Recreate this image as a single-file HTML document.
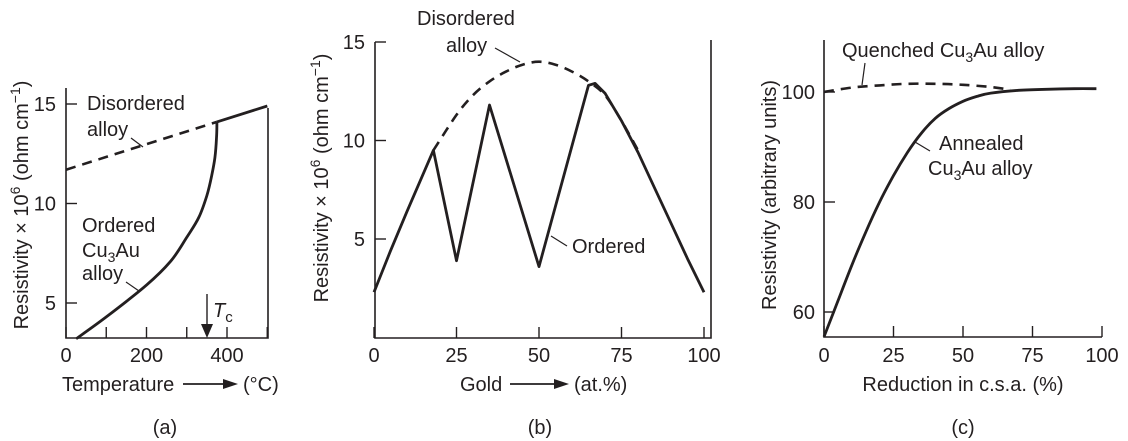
<!DOCTYPE html>
<html><head><meta charset="utf-8"><style>
html,body{margin:0;padding:0;background:#fff;}
svg{display:block;font-family:"Liberation Sans",Arial,sans-serif;}
text{fill:#231f20;font-size:20px;}
</style></head><body>
<svg id="fig" width="1128" height="441" viewBox="0 0 1128 441"></svg>
<script>
// Panel (a) data
const aDisX = [0, 375];
const aDisY = [11.7, 14.1];
const aOrdX = [25, 100, 200, 260, 300, 330, 350, 362, 370, 374, 375];
const aOrdY = [3.2, 4.3, 5.9, 7.1, 8.3, 9.3, 10.4, 11.4, 12.3, 13.3, 14.1];
const aHighX = [375, 500];
const aHighY = [14.1, 14.9];
const aXTicks = [0, 200, 400];
const aXMinor = [100, 300, 500];
const aYTicks = [5, 10, 15];
// Panel (b) data
const bDisX = [18, 25, 30, 35, 40, 45, 50, 55, 60, 65, 70, 75, 80];
const bDisY = [9.5, 11.3, 12.3, 13.0, 13.5, 13.85, 14.0, 13.85, 13.5, 13.0, 12.3, 11.0, 9.5];
const bOrdX = [0, 5, 10, 18, 25, 35, 50, 65, 67, 70, 75, 80, 85, 90, 95, 100];
const bOrdY = [2.3, 4.4, 6.4, 9.5, 3.9, 11.8, 3.6, 12.8, 12.9, 12.4, 11.0, 9.4, 7.6, 5.8, 4.0, 2.3];
const bXTicks = [0, 25, 50, 75, 100];
const bYTicks = [5, 10, 15];
// Panel (c) data
const cQX = [0, 10, 20, 30, 40, 50, 60, 67];
const cQY = [100, 100.8, 101.2, 101.5, 101.5, 101.3, 100.9, 100.4];
const cAX = [0, 5, 10, 15, 20, 25, 30, 35, 40, 45, 50, 55, 60, 70, 80, 90, 98];
const cAY = [55.5, 62, 68.5, 74.5, 80, 84.8, 89, 92.5, 95.2, 97, 98.3, 99.2, 99.8, 100.3, 100.5, 100.6, 100.6];
const cXTicks = [0, 25, 50, 75, 100];
const cYTicks = [60, 80, 100];

const NS = "http://www.w3.org/2000/svg";
const svg = document.getElementById('fig');
function el(tag, attrs, parent) {
  const e = document.createElementNS(NS, tag);
  for (const k in attrs) e.setAttribute(k, attrs[k]);
  (parent || svg).appendChild(e);
  return e;
}
function lin(d0, d1, p0, p1) { return v => p0 + (v - d0) * (p1 - p0) / (d1 - d0); }
function pathD(xs, ys, sx, sy) { return xs.map((x, i) => (i ? 'L' : 'M') + sx(x).toFixed(1) + ' ' + sy(ys[i]).toFixed(1)).join(' '); }
function smoothD(xs, ys, sx, sy) {
  const p = xs.map((x, i) => [sx(x), sy(ys[i])]);
  let d = 'M' + p[0][0].toFixed(1) + ' ' + p[0][1].toFixed(1);
  for (let i = 0; i < p.length - 1; i++) {
    const p0 = p[Math.max(0, i - 1)], p1 = p[i], p2 = p[i + 1], p3 = p[Math.min(p.length - 1, i + 2)];
    const c1 = [p1[0] + (p2[0] - p0[0]) / 6, p1[1] + (p2[1] - p0[1]) / 6];
    const c2 = [p2[0] - (p3[0] - p1[0]) / 6, p2[1] - (p3[1] - p1[1]) / 6];
    d += ' C' + c1.map(v => v.toFixed(1)).join(' ') + ' ' + c2.map(v => v.toFixed(1)).join(' ') + ' ' + p2[0].toFixed(1) + ' ' + p2[1].toFixed(1);
  }
  return d;
}
function txt(x, y, s, attrs) {
  const t = el('text', Object.assign({x: x, y: y}, attrs || {}));
  t.innerHTML = s;
  return t;
}
const YT = 'Resistivity × 10<tspan font-size="14" dy="-8">6</tspan><tspan dy="8"> (ohm cm</tspan><tspan font-size="14" dy="-8">−1</tspan><tspan dy="8">)</tspan>';

// ---------- Panel (a) ----------
const ax = lin(0, 400, 66, 227), ay = lin(5, 15, 303, 104);
const ga = el('g', {});


el('path', {d: 'M66 88 V338 H268 V108', fill: 'none', stroke: '#231f20', 'stroke-width': 1.6}, ga);
aXTicks.concat(aXMinor).forEach(v => { el('line', {x1: ax(v), x2: ax(v), y1: 338, y2: 327, stroke: '#231f20', 'stroke-width': 1.4}, ga); });
aXTicks.forEach(v => { const t = txt(ax(v), 362, v, {'text-anchor': 'middle'}); ga.appendChild(t); });
aYTicks.forEach(v => { el('line', {x1: 66, x2: 77, y1: ay(v), y2: ay(v), stroke: '#231f20', 'stroke-width': 1.4}, ga); const t = txt(56, ay(v) + 7, v, {'text-anchor': 'end'}); ga.appendChild(t); });
const aDash = el('path', {d: pathD(aDisX, aDisY, ax, ay), fill: 'none', stroke: '#231f20', 'stroke-width': 2.6, 'stroke-dasharray': '10 7'}, ga);


const aOrd = el('path', {d: smoothD(aOrdX, aOrdY, ax, ay), fill: 'none', stroke: '#231f20', 'stroke-width': 2.8, 'stroke-linejoin': 'round'}, ga);


const aHi = el('path', {d: pathD(aHighX, aHighY, ax, ay), fill: 'none', stroke: '#231f20', 'stroke-width': 2.8}, ga);


txt(87, 110, 'Disordered', {}); txt(87, 136, 'alloy', {});
el('line', {x1: 131, x2: 143, y1: 138, y2: 147, stroke: '#231f20', 'stroke-width': 1.2});
txt(82, 232, 'Ordered', {}); txt(82, 257, 'Cu<tspan font-size="14" dy="5">3</tspan><tspan dy="-5">Au</tspan>', {}); txt(82, 280, 'alloy', {});
el('line', {x1: 126, x2: 139, y1: 282, y2: 291, stroke: '#231f20', 'stroke-width': 1.2});
el('line', {x1: 207, x2: 207, y1: 294, y2: 330, stroke: '#231f20', 'stroke-width': 1.4});
el('path', {d: 'M201 324 L213 324 L207 338 Z', fill: '#231f20'});
txt(213, 317, '<tspan font-style="italic">T</tspan><tspan font-size="15" dy="5">c</tspan>', {});
const aYt = txt(0, 0, YT, {'text-anchor': 'middle', transform: 'translate(28 205) rotate(-90)'});


txt(62, 391, 'Temperature', {});
el('line', {x1: 183, x2: 226, y1: 384, y2: 384, stroke: '#231f20', 'stroke-width': 1.8});
el('path', {d: 'M223 379 L238 384 L223 389 Z', fill: '#231f20'});
txt(243, 391, '(°C)', {});
txt(165, 434, '(a)', {'text-anchor': 'middle'});

// ---------- Panel (b) ----------
const bx = lin(0, 100, 374, 704), by = lin(5, 15, 239, 42);
const gb = el('g', {});


el('path', {d: 'M375 42 V338 H711 V40', fill: 'none', stroke: '#231f20', 'stroke-width': 1.6}, gb);
bXTicks.forEach(v => { el('line', {x1: bx(v), x2: bx(v), y1: 338, y2: 327, stroke: '#231f20', 'stroke-width': 1.4}, gb); const t = txt(bx(v), 362, v, {'text-anchor': 'middle'}); gb.appendChild(t); });
bYTicks.forEach(v => { el('line', {x1: 375, x2: 386, y1: by(v), y2: by(v), stroke: '#231f20', 'stroke-width': 1.4}, gb); const t = txt(365, by(v) + 7, v, {'text-anchor': 'end'}); gb.appendChild(t); });
const bDash = el('path', {d: smoothD(bDisX, bDisY, bx, by), fill: 'none', stroke: '#231f20', 'stroke-width': 2.6, 'stroke-dasharray': '10 7'}, gb);


const bOrd = el('path', {d: pathD(bOrdX, bOrdY, bx, by), fill: 'none', stroke: '#231f20', 'stroke-width': 2.8, 'stroke-linejoin': 'round'}, gb);


txt(417, 25, 'Disordered', {}); txt(446, 52, 'alloy', {});
el('line', {x1: 495, x2: 520, y1: 48, y2: 62, stroke: '#231f20', 'stroke-width': 1.2});
txt(572, 253, 'Ordered', {});
el('line', {x1: 551, x2: 567, y1: 236, y2: 246, stroke: '#231f20', 'stroke-width': 1.2});
const bYt = txt(0, 0, YT, {'text-anchor': 'middle', transform: 'translate(328 178) rotate(-90)'});


txt(460, 391, 'Gold', {});
el('line', {x1: 510, x2: 557, y1: 384, y2: 384, stroke: '#231f20', 'stroke-width': 1.8});
el('path', {d: 'M554 379 L569 384 L554 389 Z', fill: '#231f20'});
txt(574, 391, '(at.%)', {});
txt(540, 434, '(b)', {'text-anchor': 'middle'});

// ---------- Panel (c) ----------
const cx = lin(0, 100, 824, 1102), cy = lin(60, 100, 312, 92);
const gc = el('g', {});


el('path', {d: 'M824 40 V337 H1102', fill: 'none', stroke: '#231f20', 'stroke-width': 1.6}, gc);
cXTicks.forEach(v => { el('line', {x1: cx(v), x2: cx(v), y1: 337, y2: 326, stroke: '#231f20', 'stroke-width': 1.4}, gc); const t = txt(cx(v), 362, v, {'text-anchor': 'middle'}); gc.appendChild(t); });
cYTicks.forEach(v => { el('line', {x1: 824, x2: 835, y1: cy(v), y2: cy(v), stroke: '#231f20', 'stroke-width': 1.4}, gc); const t = txt(815, cy(v) + 7, v, {'text-anchor': 'end'}); gc.appendChild(t); });
const cDash = el('path', {d: smoothD(cQX, cQY, cx, cy), fill: 'none', stroke: '#231f20', 'stroke-width': 2.6, 'stroke-dasharray': '10 7'}, gc);


const cAnn = el('path', {d: smoothD(cAX, cAY, cx, cy), fill: 'none', stroke: '#231f20', 'stroke-width': 2.8, 'stroke-linejoin': 'round'}, gc);


txt(842, 57, 'Quenched Cu<tspan font-size="14" dy="5">3</tspan><tspan dy="-5">Au alloy</tspan>', {});
el('line', {x1: 865, x2: 862, y1: 63, y2: 85, stroke: '#231f20', 'stroke-width': 1.2});
txt(939, 150, 'Annealed', {});
txt(928, 175, 'Cu<tspan font-size="14" dy="5">3</tspan><tspan dy="-5">Au alloy</tspan>', {});
el('line', {x1: 915, x2: 930, y1: 142, y2: 151, stroke: '#231f20', 'stroke-width': 1.2});
const cYt = txt(0, 0, 'Resistivity (arbitrary units)', {'text-anchor': 'middle', transform: 'translate(776 195) rotate(-90)'});


const cXt = txt(963, 391, 'Reduction in c.s.a. (%)', {'text-anchor': 'middle'});


txt(963, 434, '(c)', {'text-anchor': 'middle'});
</script>
</body></html>
